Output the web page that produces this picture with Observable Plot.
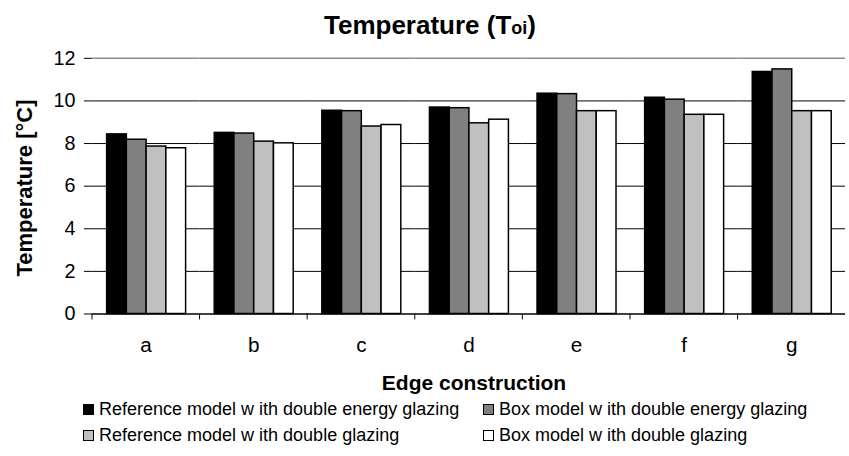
<!DOCTYPE html>
<html><head><meta charset="utf-8">
<script src="https://cdn.jsdelivr.net/npm/d3@7"></script>
<script src="https://cdn.jsdelivr.net/npm/@observablehq/plot@0.6"></script>
<style>
body{margin:0;background:#fff;font-family:"Liberation Sans",Arial,sans-serif;color:#000;}
#wrap{position:relative;width:849px;height:456px;overflow:hidden;background:#fff;}
#title{position:absolute;left:0;width:860px;top:6px;height:38px;line-height:38px;text-align:center;font-weight:bold;font-size:26px;}
#title .sub{font-size:18px;}
#chart{position:absolute;left:0;top:44px;}
#ylabel{position:absolute;left:-105px;top:175px;width:260px;height:26px;line-height:26px;text-align:center;font-weight:bold;font-size:22px;transform:rotate(-90deg);}
#xlabel{position:absolute;left:90px;width:768px;top:370px;height:26px;line-height:26px;text-align:center;font-weight:bold;font-size:21px;}
.leg{position:absolute;font-size:18px;height:24px;line-height:24px;display:flex;align-items:center;white-space:nowrap;}
.sw{width:9px;height:9px;border:1px solid #000;margin-right:5px;}
</style></head>
<body>
<div id="wrap">
  <div id="title">Temperature (T<span class="sub">oi</span>)</div>
  <div id="chart"></div>
  <div id="ylabel">Temperature [°C]</div>
  <div id="xlabel">Edge construction</div>
  <div id="legend"></div>
</div>
<script>
const categories = ["a", "b", "c", "d", "e", "f", "g"];
const seriesNames = [
  "Reference model w ith double energy glazing",
  "Box model w ith double energy glazing",
  "Reference model w ith double glazing",
  "Box model w ith double glazing"
];
const seriesColors = ["#000000", "#808080", "#c0c0c0", "#ffffff"];
const refEnergy = [8.43, 8.50, 9.54, 9.69, 10.34, 10.15, 11.36];
const boxEnergy = [8.18, 8.47, 9.52, 9.66, 10.32, 10.06, 11.48];
const refDouble = [7.86, 8.09, 8.80, 8.95, 9.52, 9.35, 9.52];
const boxDouble = [7.78, 8.01, 8.87, 9.12, 9.52, 9.35, 9.52];
const yTicks = [0, 2, 4, 6, 8, 10, 12];
const gridTicks = [2, 4, 6, 8, 10];

const seriesValues = [refEnergy, boxEnergy, refDouble, boxDouble];
const data = categories.flatMap((c, i) => seriesNames.map((s, j) => ({edge: c, series: s, value: seriesValues[j][i]})));

const W = 860, ML = 90, MR = 2;
const step = (W - ML - MR) / categories.length;

const chart = Plot.plot({
  width: W, height: 326,
  marginTop: 14, marginBottom: 53, marginLeft: ML, marginRight: MR,
  style: {fontFamily: "Liberation Sans, Arial, sans-serif", fontSize: "20px", color: "#000", background: "#fff", overflow: "visible"},
  fx: {domain: categories, padding: 0, label: null, axis: null},
  x: {domain: seriesNames, paddingInner: 0, paddingOuter: 0.68, axis: null},
  y: {domain: [0, 12], axis: null},
  color: {domain: seriesNames, range: seriesColors},
  marks: [
    Plot.ruleY(gridTicks, {stroke: "#000", strokeWidth: 1}),
    Plot.ruleY([12], {stroke: "#8c8c8c", strokeWidth: 1.5}),
    Plot.barY(data, {fx: "edge", x: "series", y: "value", fill: "series", stroke: "#000", strokeWidth: 1.5}),
    Plot.ruleY([0], {stroke: "#000", strokeWidth: 1.5}),
    Plot.axisY({ticks: yTicks, tickSize: 8, tickPadding: 9, fontSize: 20, label: null, line: true, stroke: "#000"}),
    Plot.axisFx({anchor: "bottom", tickSize: 0, tickPadding: 24, fontSize: 21, label: null}),
    Plot.axisFx({anchor: "bottom", tickSize: 6, tickFormat: () => "", dx: -step / 2, label: null, stroke: "#000"})
  ]
});
document.getElementById("chart").appendChild(chart);

const legend = document.getElementById("legend");
const legPos = [[83, 397], [483, 397], [83, 423], [483, 423]];
seriesNames.forEach((s, i) => {
  const d = document.createElement("div");
  d.className = "leg";
  d.style.left = legPos[i][0] + "px";
  d.style.top = legPos[i][1] + "px";
  const sw = document.createElement("span");
  sw.className = "sw";
  sw.style.background = seriesColors[i];
  d.appendChild(sw);
  d.appendChild(document.createTextNode(s));
  legend.appendChild(d);
});
</script>
</body></html>
